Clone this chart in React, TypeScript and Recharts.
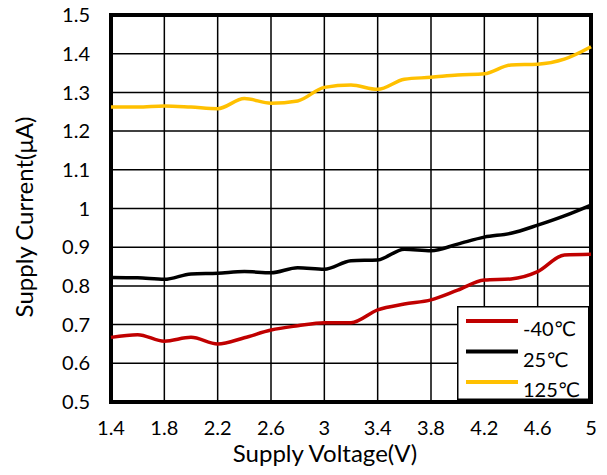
import React from 'react';
import { LineChart, Line, XAxis, YAxis, CartesianGrid, Legend, ReferenceArea, Label } from 'recharts';

const voltages = [1.4, 1.6, 1.8, 2.0, 2.2, 2.4, 2.6, 2.8, 3.0, 3.2, 3.4, 3.6, 3.8, 4.0, 4.2, 4.4, 4.6, 4.8, 5.0];
const currentMinus40 = [0.667, 0.674, 0.657, 0.667, 0.65, 0.666, 0.686, 0.697, 0.705, 0.705, 0.738, 0.753, 0.764, 0.789, 0.815, 0.818, 0.837, 0.88, 0.882];
const current25 = [0.822, 0.821, 0.817, 0.831, 0.833, 0.837, 0.834, 0.847, 0.843, 0.865, 0.867, 0.895, 0.891, 0.908, 0.926, 0.936, 0.957, 0.981, 1.009];
const current125 = [1.262, 1.262, 1.265, 1.262, 1.258, 1.284, 1.272, 1.278, 1.313, 1.319, 1.308, 1.334, 1.339, 1.345, 1.348, 1.371, 1.373, 1.386, 1.418];

const xTicks = [1.4, 1.8, 2.2, 2.6, 3, 3.4, 3.8, 4.2, 4.6, 5];
const yTicks = [0.5, 0.6, 0.7, 0.8, 0.9, 1.0, 1.1, 1.2, 1.3, 1.4, 1.5];
const seriesNames = ['-40℃', '25℃', '125℃'];
const seriesColors = ['#C00000', '#000000', '#FFC000'];
const xTitle = 'Supply Voltage(V)';
const yTitle = 'Supply Current(μA)';

const data = voltages.map((v, i) => ({
  v,
  m40: currentMinus40[i],
  t25: current25[i],
  t125: current125[i],
}));

const FONT = 'Lato, "DejaVu Sans", sans-serif';
const fmt = (n: number) => String(Number(n.toFixed(1)));

const renderLegend = (props: any) => {
  const payload = [...(props.payload || [])].sort(
    (a: any, b: any) => seriesNames.indexOf(a.value) - seriesNames.indexOf(b.value)
  );
  return (
    <svg width={132} height={94} style={{ display: 'block' }}>
      <rect x={0.75} y={0.75} width={131} height={92.5} fill="#fff" stroke="#000" strokeWidth={1.5} />
      {payload.map((p: any, i: number) => (
        <g key={i}>
          <line x1={9} x2={61} y1={15 + i * 30.5} y2={15 + i * 30.5} stroke={p.color} strokeWidth={4} />
          <text x={66} y={30 + i * 30.5} fontFamily={FONT} fontSize={20} fill="#000">
            {p.value}
          </text>
        </g>
      ))}
    </svg>
  );
};

export default function App() {
  return (
    <div style={{ position: 'absolute', left: 0, top: 0, width: 607, height: 475, background: '#fff' }}>
      <LineChart width={607} height={475} data={data} margin={{ top: 15, right: 16, left: 0, bottom: 0 }}>
        <CartesianGrid stroke="#000" strokeWidth={1.5} />
        <XAxis
          dataKey="v"
          type="number"
          domain={[1.4, 5]}
          ticks={xTicks}
          interval={0}
          height={73}
          axisLine={false}
          tickLine={false}
          tickSize={0}
          tickMargin={19}
          tickFormatter={fmt}
          tick={{ fill: '#000', fontSize: 20, fontFamily: FONT }}
        >
          <Label
            content={() => (
              <text x={325} y={462} textAnchor="middle" fontFamily={FONT} fontSize={24} fill="#000">
                {xTitle}
              </text>
            )}
          />
        </XAxis>
        <YAxis
          type="number"
          domain={[0.5, 1.5]}
          ticks={yTicks}
          interval={0}
          width={111}
          axisLine={false}
          tickLine={false}
          tickSize={0}
          tickMargin={21}
          tickFormatter={fmt}
          tick={{ fill: '#000', fontSize: 20, fontFamily: FONT }}
        >
          <Label
            content={() => (
              <text
                x={23}
                y={217}
                transform="rotate(-90, 23, 217)"
                textAnchor="middle"
                dominantBaseline="central"
                fontFamily={FONT}
                fontSize={24}
                fill="#000"
              >
                {yTitle}
              </text>
            )}
          />
        </YAxis>
        <ReferenceArea x1={1.4} x2={5} y1={0.5} y2={1.5} fill="none" stroke="#000" strokeWidth={4} ifOverflow="visible" />
        <Line type="monotone" dataKey="m40" name={seriesNames[0]} stroke={seriesColors[0]} strokeWidth={3.5} dot={false} isAnimationActive={false} />
        <Line type="monotone" dataKey="t25" name={seriesNames[1]} stroke={seriesColors[1]} strokeWidth={3.5} dot={false} isAnimationActive={false} />
        <Line type="monotone" dataKey="t125" name={seriesNames[2]} stroke={seriesColors[2]} strokeWidth={3.5} dot={false} isAnimationActive={false} />
        <Legend
          layout="vertical"
          align="center"
          verticalAlign="middle"
          content={renderLegend}
          wrapperStyle={{ position: 'absolute', left: 457, top: 306, width: 132, height: 94, bottom: 'auto', right: 'auto', margin: 0 }}
        />
      </LineChart>
    </div>
  );
}
